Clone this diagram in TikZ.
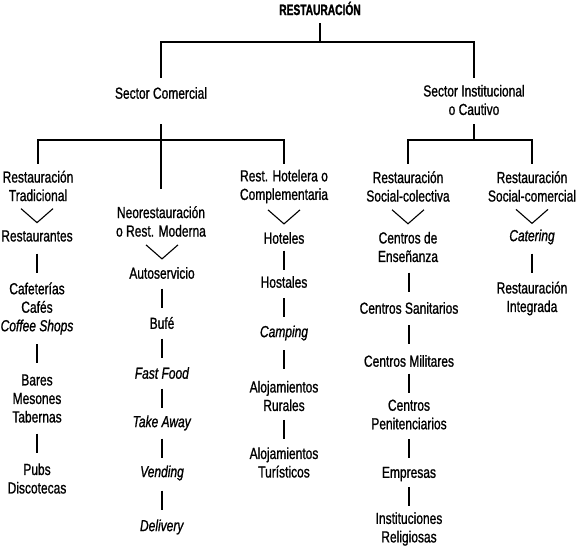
\documentclass[tikz,border=0pt]{standalone}
\usepackage{fontspec}
\setmainfont{Liberation Sans}[FakeStretch=0.75,FakeBold=1]
\newfontfamily\rootfont{Liberation Sans}[FakeStretch=0.68,FakeBold=1.5]
\usetikzlibrary{arrows.meta,calc}
\tikzset{
  lbl/.style={inner sep=0pt, align=center, font=\fontsize{16}{18.5}\selectfont},
  l1/.style={lbl, minimum height=18.5pt},
  l2/.style={lbl, minimum height=37pt},
  l3/.style={lbl, minimum height=55.5pt},
  line/.style={line width=1.1pt},
  dotline/.style={line, -{Square[length=2.8pt,width=2.8pt]}},
}
\newcommand\mystem[2]{\draw[dotline] ($(#2.north)!.5!(#2.north |- #1.south)+(0,-9.5)$) -- ($(#2.north)!.5!(#2.north |- #1.south)+(0,9.5)$);}
\newcommand\mychev[2]{\draw[line] ($(#2.north)!.5!(#2.north |- #1.south)+(-16,-7)$) -- ++(16,14) -- ++(16,-14);}
\begin{document}
\begin{tikzpicture}[x=1pt,y=-1pt]
\useasboundingbox (0,0) rectangle (576,547);
% top levels
\node[inner sep=0pt, anchor=base, font=\rootfont\bfseries\fontsize{15}{17}\selectfont] (root) at (320,15) {RESTAURACIÓN};
\node[l1] (sc) at (161,93) {Sector Comercial};
\node[l2] (si) at (474,100) {Sector Institucional\\o Cautivo};
% column A
\node[l2] (A0) at (38,186) {Restauración\\Tradicional};
\node[l1] (A1) at (37,236) {Restaurantes};
\node[l3] (A2) at (37,308.5) {Cafeterías\\Cafés\\\textit{Coffee Shops}};
\node[l3] (A3) at (37,398.5) {Bares\\Mesones\\Tabernas};
\node[l2] (A4) at (37,478.5) {Pubs\\Discotecas};
% column B
\node[l2] (B0) at (161,221.5) {Neorestauración\\o Rest. Moderna};
\node[l1] (B1) at (162,273) {Autoservicio};
\node[l1] (B2) at (162,323) {Bufé};
\node[l1] (B3) at (162,373) {\textit{Fast Food}};
\node[l1] (B4) at (162,423) {\textit{Take Away}};
\node[l1] (B5) at (162,473) {\textit{Vending}};
\node[l1] (B6) at (162,527) {\textit{Delivery}};
% column C
\node[l2] (C0) at (284,186.5) {Rest. Hotelera o\\Complementaria};
\node[l1] (C1) at (284,238) {Hoteles};
\node[l1] (C2) at (284,282) {Hostales};
\node[l1] (C3) at (284,333) {\textit{Camping}};
\node[l2] (C4) at (284,396) {Alojamientos\\Rurales};
\node[l2] (C5) at (284,462.5) {Alojamientos\\Turísticos};
% column D
\node[l2] (D0) at (408,186.5) {Restauración\\Social-colectiva};
\node[l2] (D1) at (408,247) {Centros de\\Enseñanza};
\node[l1] (D2) at (409,308) {Centros Sanitarios};
\node[l1] (D3) at (409,361) {Centros Militares};
\node[l2] (D4) at (409,414.5) {Centros\\Penitenciarios};
\node[l1] (D5) at (409,474) {Empresas};
\node[l2] (D6) at (409,529) {Instituciones\\Religiosas};
% column E
\node[l2] (E0) at (532,186.5) {Restauración\\Social-comercial};
\node[l1] (E1) at (532,237) {\textit{Catering}};
\node[l2] (E2) at (532,298.5) {Restauración\\Integrada};
% tree connectors
\coordinate (j0) at (root.south |- 0,42);
\draw[line] ([yshift=-8pt]root.south) -- (j0);
\draw[dotline] (j0) -| ([yshift=5.5pt]sc.north);
\draw[dotline] (j0) -| ([yshift=3.5pt]si.north);
\coordinate (j1) at (161,140);
\draw[line] ([yshift=-22pt]sc.south) -- (j1);
\draw[dotline] (j1) -| ([yshift=3.5pt]A0.north);
\draw[dotline] (j1) -- ([yshift=14pt]B0.north);
\draw[dotline] (j1) -| ([yshift=4pt]C0.north);
\coordinate (j2) at (474,140);
\draw[line] ([yshift=-5.5pt]si.south) -- (j2);
\draw[dotline] (j2) -| ([yshift=3.5pt]D0.north);
\draw[dotline] (j2) -| ([yshift=3.5pt]E0.north);
% chevrons
\mychev{A0}{A1}
\mychev{B0}{B1}
\mychev{C0}{C1}
\mychev{D0}{D1}
\mychev{E0}{E1}
% stems
\mystem{A1}{A2}\mystem{A2}{A3}\mystem{A3}{A4}
\mystem{B1}{B2}\mystem{B2}{B3}\mystem{B3}{B4}\mystem{B4}{B5}\mystem{B5}{B6}
\mystem{C1}{C2}\mystem{C2}{C3}\mystem{C3}{C4}\mystem{C4}{C5}
\mystem{D1}{D2}\mystem{D2}{D3}\mystem{D3}{D4}\mystem{D4}{D5}\mystem{D5}{D6}
\mystem{E1}{E2}
\end{tikzpicture}
\end{document}
